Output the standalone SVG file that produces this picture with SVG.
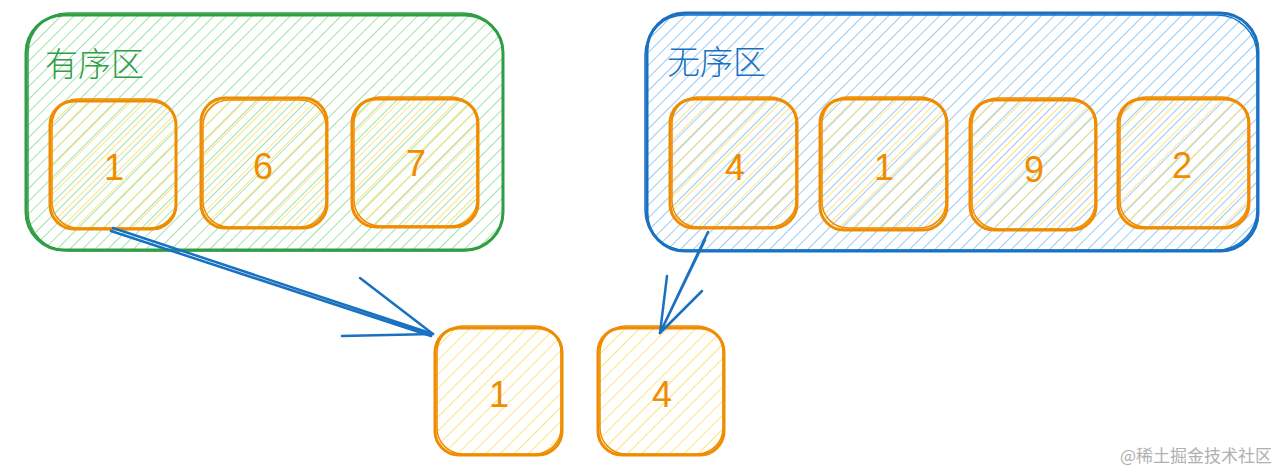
<svg xmlns="http://www.w3.org/2000/svg" width="1287" height="471" viewBox="0 0 1287 471">
<style>
.green{fill:url(#hg);stroke:#2f9e44;stroke-width:3}
.blue{fill:url(#hb);stroke:#1971c2;stroke-width:3}
.cell{fill:url(#hy);stroke:#f08c00;stroke-width:3}
.sk{fill:none;stroke-width:1.5}
.num{font-family:"Liberation Sans","Noto Sans",sans-serif;font-size:36px;fill:#f08c00;text-anchor:middle;dominant-baseline:central}
.lbl{font-family:"Noto Sans CJK SC",sans-serif;font-size:33px;font-weight:300}
.arr{fill:none;stroke:#1971c2;stroke-width:2.5;stroke-linecap:round}
</style>
<defs>
<pattern id="hg" width="9" height="9" patternUnits="userSpaceOnUse" patternTransform="rotate(45)"><line x1="0" y1="0" x2="0" y2="9" stroke="#96e0a2" stroke-width="1.8"/></pattern>
<pattern id="hb" width="9" height="9" patternUnits="userSpaceOnUse" patternTransform="rotate(45)"><line x1="0" y1="0" x2="0" y2="9" stroke="#8cc6f5" stroke-width="1.8"/></pattern>
<pattern id="hy" width="10" height="10" patternUnits="userSpaceOnUse" patternTransform="rotate(45) translate(4,0)"><line x1="0" y1="0" x2="0" y2="10" stroke="#ffe070" stroke-width="1.8"/></pattern>
</defs>
<rect width="1287" height="471" fill="#ffffff"/>

<g id="ordered">
<rect class="green" x="26" y="15" width="477" height="235" rx="38"/>
<rect class="sk" x="28" y="13" width="475" height="238" rx="40" stroke="#2f9e44"/>
<text class="lbl" x="45" y="76" fill="#2f9e44">有序区</text>
</g>
<g id="unordered">
<rect class="blue" x="647" y="13" width="611" height="238" rx="38"/>
<rect class="sk" x="645" y="15" width="612" height="235" rx="40" stroke="#1971c2"/>
<text class="lbl" x="667" y="74" fill="#1971c2">无序区</text>
</g>

<g id="o1"><rect class="cell" x="50" y="101" width="126" height="128" rx="24"/><rect class="sk" x="52" y="99" width="124" height="129" rx="26" stroke="#f08c00"/><text class="num" x="114" y="167">1</text></g>
<g id="o2"><rect class="cell" x="201" y="98" width="126" height="130" rx="24"/><rect class="sk" x="203" y="100" width="123" height="127" rx="26" stroke="#f08c00"/><text class="num" x="263" y="166">6</text></g>
<g id="o3"><rect class="cell" x="352" y="99" width="126" height="128" rx="24"/><rect class="sk" x="354" y="97" width="123" height="129" rx="26" stroke="#f08c00"/><text class="num" x="416" y="163">7</text></g>

<g id="u1"><rect class="cell" x="670" y="99" width="127" height="129" rx="24"/><rect class="sk" x="672" y="97" width="124" height="130" rx="26" stroke="#f08c00"/><text class="num" x="735" y="167">4</text></g>
<g id="u2"><rect class="cell" x="820" y="99" width="127" height="131" rx="24"/><rect class="sk" x="822" y="97" width="124" height="131" rx="26" stroke="#f08c00"/><text class="num" x="884" y="167">1</text></g>
<g id="u3"><rect class="cell" x="970" y="100" width="126" height="130" rx="24"/><rect class="sk" x="972" y="98" width="123" height="131" rx="26" stroke="#f08c00"/><text class="num" x="1034" y="169">9</text></g>
<g id="u4"><rect class="cell" x="1118" y="99" width="131" height="129" rx="24"/><rect class="sk" x="1120" y="97" width="128" height="130" rx="26" stroke="#f08c00"/><text class="num" x="1182" y="165">2</text></g>

<g id="b1"><rect class="cell" x="435" y="328" width="127" height="127" rx="24"/><rect class="sk" x="437" y="326" width="124" height="128" rx="26" stroke="#f08c00"/><text class="num" x="499" y="394">1</text></g>
<g id="b2"><rect class="cell" x="598" y="328" width="126" height="127" rx="24"/><rect class="sk" x="600" y="326" width="123" height="128" rx="26" stroke="#f08c00"/><text class="num" x="662" y="394">4</text></g>

<g id="connectors">
<path class="arr" d="M113 228 L433 334 M111 231 L431 336"/>
<path class="arr" d="M360 278 L433 334 M342 336 L433 334"/>
<path class="arr" d="M708 232 L660 333 M705 240 L661 331"/>
<path class="arr" d="M667 276 L660 333 M702 291 L660 333"/>
</g>

<text x="1120" y="462" font-family="Noto Sans CJK SC,sans-serif" font-size="17" fill="#b0b0b0">@稀土掘金技术社区</text>
</svg>
